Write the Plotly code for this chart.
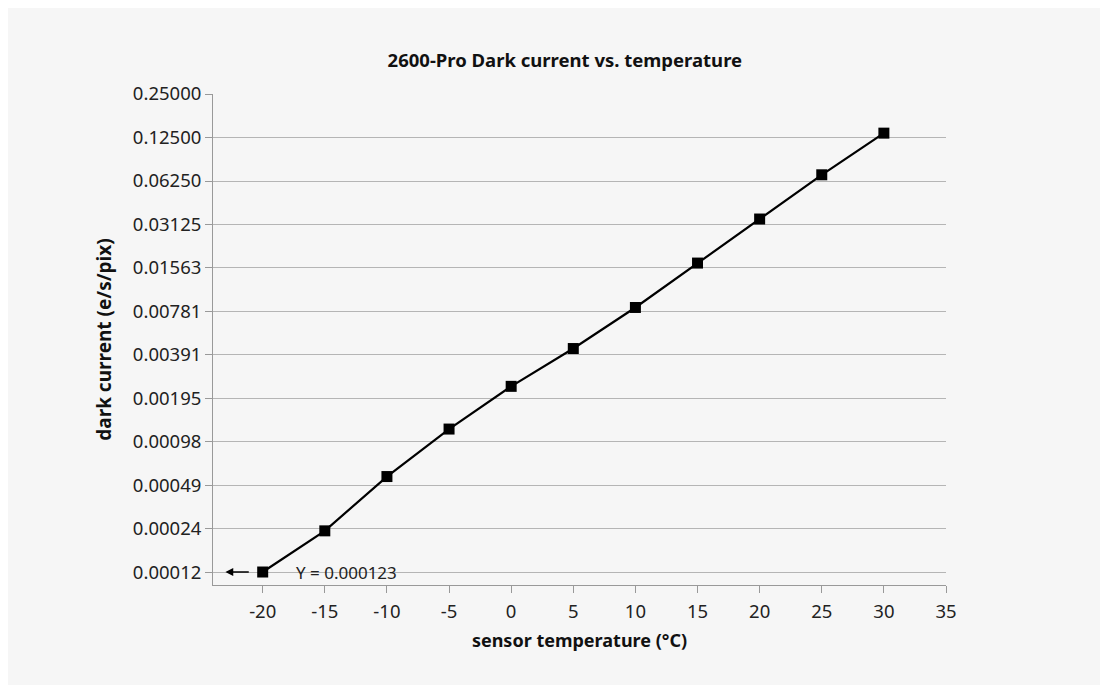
import math
import plotly.graph_objects as go

temperature = [-20, -15, -10, -5, 0, 5, 10, 15, 20, 25, 30]
dark_current = [0.000123, 0.000237, 0.000563, 0.00120, 0.00237, 0.00433,
                0.00833, 0.0169, 0.0341, 0.0690, 0.134]
y_tick_vals = [2 ** -k for k in range(2, 14)]
y_tick_text = ["0.25000", "0.12500", "0.06250", "0.03125", "0.01563", "0.00781",
               "0.00391", "0.00195", "0.00098", "0.00049", "0.00024", "0.00012"]
x_tick_vals = [-20, -15, -10, -5, 0, 5, 10, 15, 20, 25, 30, 35]
x_tick_text = ["-20", "-15", "-10", "-5", "0", "5", "10", "15", "20", "25", "30", "35"]

FONT = "Source Sans Pro, Noto Sans, Open Sans, sans-serif"
BG = "#f6f6f6"

fig = go.Figure()
fig.add_trace(go.Scatter(
    x=temperature, y=dark_current, mode="lines+markers",
    line=dict(color="black", width=2.2),
    marker=dict(symbol="square", size=11, color="black"),
    showlegend=False,
))

fig.add_annotation(
    x=-23, y=math.log10(dark_current[0]), ax=-21, ay=math.log10(dark_current[0]),
    xref="x", yref="y", axref="x", ayref="y",
    text="", showarrow=True, arrowhead=2, arrowsize=1.2, arrowwidth=1.3,
    arrowcolor="black",
)
fig.add_annotation(
    x=-17.5, y=math.log10(dark_current[0]), xref="x", yref="y",
    text=f"Y = {dark_current[0]:.6f}", showarrow=False, xanchor="left",
    font=dict(family=FONT, size=17, color="#222"),
)

fig.update_layout(
    width=1092, height=677,
    paper_bgcolor=BG, plot_bgcolor=BG,
    margin=dict(l=205, r=154, t=86, b=100),
    font=dict(family=FONT, size=18, color="#222"),
    title=dict(text="<b>2600-Pro Dark current vs. temperature</b>",
               x=0.48, xref="paper", xanchor="center",
               y=1 - 53 / 677, yanchor="middle",
               font=dict(family=FONT, size=18.5, color="#111")),
    xaxis=dict(
        range=[-24, 35], tickvals=x_tick_vals, ticktext=x_tick_text,
        ticks="outside", ticklen=7, ticklabelstandoff=3,
        tickcolor="#999", showline=True, linecolor="#999", linewidth=1,
        showgrid=False, zeroline=False,
        tickfont=dict(size=18.5),
        title=dict(text="<b>sensor temperature (°C)</b>", standoff=12,
                   font=dict(family=FONT, size=18, color="#111")),
    ),
    yaxis=dict(
        type="log", range=[-4.0, math.log10(0.25)],
        tickvals=y_tick_vals, ticktext=y_tick_text,
        ticks="outside", ticklen=7, tickcolor="#999",
        showline=True, linecolor="#999", linewidth=1,
        showgrid=True, gridcolor="#b5b5b5", gridwidth=1, zeroline=False,
        tickfont=dict(size=18.5),
        title=dict(text="<b>dark current (e/s/pix)</b>", standoff=16,
                   font=dict(family=FONT, size=19, color="#111")),
    ),
)

fig.write_html("out.html")
